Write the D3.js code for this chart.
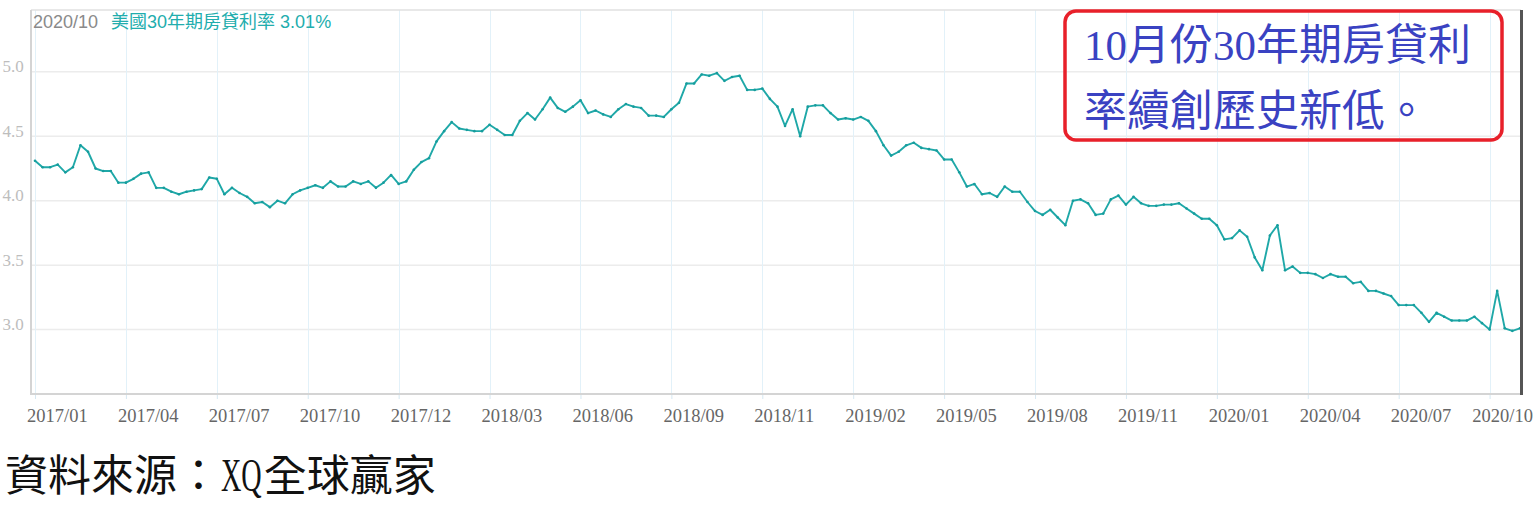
<!DOCTYPE html>
<html><head><meta charset="utf-8">
<script src="https://cdn.jsdelivr.net/npm/d3@7"></script>
<style>html,body{margin:0;padding:0;background:#fff;overflow:hidden}svg{display:block}</style>
</head><body>
<svg id="chart" width="1536" height="522"></svg>
<script>
// Weekly US 30-year mortgage rate (%), Jan 2017 – Oct 2020
const rates = [
4.31,4.26,4.26,4.28,4.22,4.26,4.43,4.38,4.25,4.23,4.23,4.14,
4.14,4.17,4.21,4.22,4.10,4.10,4.07,4.05,4.07,4.08,4.09,4.18,
4.17,4.05,4.10,4.06,4.03,3.98,3.99,3.95,4.00,3.98,4.05,4.08,
4.10,4.12,4.10,4.15,4.11,4.11,4.15,4.13,4.15,4.10,4.14,4.20,
4.13,4.15,4.24,4.30,4.33,4.46,4.54,4.61,4.56,4.55,4.54,4.54,
4.59,4.55,4.51,4.51,4.62,4.68,4.63,4.71,4.80,4.72,4.69,4.73,
4.78,4.68,4.70,4.67,4.65,4.71,4.75,4.73,4.72,4.66,4.66,4.65,
4.71,4.76,4.91,4.91,4.98,4.97,4.99,4.93,4.96,4.97,4.86,4.86,
4.87,4.79,4.73,4.58,4.71,4.50,4.73,4.74,4.74,4.68,4.63,4.64,
4.63,4.65,4.62,4.54,4.43,4.35,4.38,4.43,4.45,4.41,4.40,4.39,
4.32,4.32,4.22,4.11,4.13,4.05,4.06,4.03,4.11,4.07,4.07,3.99,
3.92,3.89,3.93,3.87,3.81,4.00,4.01,3.98,3.89,3.90,4.01,4.04,
3.97,4.03,3.98,3.96,3.96,3.97,3.97,3.98,3.94,3.90,3.86,3.86,
3.81,3.70,3.71,3.77,3.72,3.56,3.46,3.73,3.81,3.46,3.49,3.44,
3.44,3.43,3.40,3.43,3.41,3.41,3.36,3.37,3.30,3.30,3.28,3.26,
3.19,3.19,3.19,3.13,3.06,3.13,3.10,3.07,3.07,3.07,3.10,3.05,
3.00,3.30,3.01,2.99,3.01
];
const tickLabels = ["2017/01","2017/04","2017/07","2017/10","2017/12","2018/03","2018/06","2018/09","2018/11","2019/02","2019/05","2019/08","2019/11","2020/01","2020/04","2020/07","2020/10"];
const tickStep = 12; // one x label every 12 weekly points
const yTicks = [3.0, 3.5, 4.0, 4.5, 5.0];
const yDomain = [2.5, 5.48];
const legendDate = "2020/10";
const legendText = "美國30年期房貸利率 3.01%";
const noteLines = ["10月份30年期房貸利", "率續創歷史新低。"];
const sourceParts = ["資料來源：", "XQ", "全球贏家"];

(function () {
const svg = d3.select("#chart");
const pL = 31, pT = 10, pB = 394, pR = 1521;
const x = d3.scaleLinear().domain([0, rates.length - 1]).range([35, 1519.9]);
const y = d3.scaleLinear().domain(yDomain).range([pB, pT]);
const tickIdx = tickLabels.map((d, i) => i * tickStep);

// horizontal grid
svg.append("g").selectAll("line").data(yTicks).join("line")
  .attr("x1", pL).attr("x2", pR)
  .attr("y1", d => y(d)).attr("y2", d => y(d))
  .attr("stroke", "#ececec").attr("stroke-width", 1.5);

// vertical grid + ticks
const xa = d3.axisBottom(x).tickValues(tickIdx).tickSize(5).tickFormat("");
const gx = svg.append("g").attr("transform", `translate(0,${pB})`).call(xa);
gx.select(".domain").remove();
gx.selectAll(".tick line").attr("stroke", "#d6e8f2").attr("stroke-width", 1);
svg.append("g").selectAll("line").data(tickIdx).join("line")
  .attr("x1", d => Math.round(x(d)) + 0.5).attr("x2", d => Math.round(x(d)) + 0.5)
  .attr("y1", pT).attr("y2", pB)
  .attr("stroke", "#e2f1f9").attr("stroke-width", 1);

// x labels
svg.append("g").selectAll("text").data(tickIdx).join("text")
  .attr("x", (d, i) => i === tickLabels.length - 1 ? 1533 : x(d) - 8)
  .attr("y", 422)
  .attr("text-anchor", (d, i) => i === tickLabels.length - 1 ? "end" : "start")
  .attr("font-family", "'Liberation Serif', serif").attr("font-size", 18.5)
  .attr("fill", "#666").text((d, i) => tickLabels[i]);

// y labels
const ya = d3.axisLeft(y).tickValues(yTicks).tickFormat(d3.format(".1f"));
svg.append("g").selectAll("text").data(yTicks).join("text")
  .attr("x", 2.5).attr("y", d => y(d) + 0.5)
  .attr("font-family", "'Liberation Serif', serif").attr("font-size", 17)
  .attr("fill", "#bdbdbd").text(d => ya.tickFormat()(d));

// frame
svg.append("line").attr("x1", pL).attr("x2", pR).attr("y1", pT).attr("y2", pT).attr("stroke", "#e0e0e0").attr("stroke-width", 1.5);
svg.append("line").attr("x1", pL).attr("x2", pL).attr("y1", pT).attr("y2", pB + 1).attr("stroke", "#d4d4d4").attr("stroke-width", 2);
svg.append("line").attr("x1", pL).attr("x2", pR).attr("y1", pB).attr("y2", pB).attr("stroke", "#d4d4d4").attr("stroke-width", 2);

// line
const line = d3.line().x((d, i) => x(i)).y(d => y(d));
svg.append("path").datum(rates).attr("d", line).attr("fill", "none")
  .attr("stroke", "#1fa8a8").attr("stroke-width", 1.9).attr("stroke-linejoin", "round");
svg.append("g").selectAll("circle").data(rates).join("circle")
  .attr("cx", (d, i) => x(i)).attr("cy", d => y(d)).attr("r", 1.3).attr("fill", "#169c9c");

// cursor bar at last point
const lastX = x(rates.length - 1) + 1.6;
svg.append("line").attr("x1", lastX).attr("x2", lastX).attr("y1", pT).attr("y2", pB + 1)
  .attr("stroke", "#555").attr("stroke-width", 3);

// legend
const lg1 = svg.append("text").attr("x", 33).attr("y", 28)
  .attr("font-family", "'Liberation Sans', Arial, 'Noto Sans CJK TC', sans-serif").attr("font-size", 18)
  .attr("fill", "#8a8a8a").text(legendDate);
const w1 = lg1.node().getComputedTextLength();
svg.append("text").attr("x", 33 + w1 + 13).attr("y", 28)
  .attr("font-family", "'Liberation Sans', Arial, 'Noto Sans CJK TC', sans-serif").attr("font-size", 18)
  .attr("fill", "#22adad").text(legendText);

// annotation box
svg.append("rect").attr("x", 1065).attr("y", 11).attr("width", 437).attr("height", 129)
  .attr("rx", 11).attr("ry", 11).attr("fill", "none").attr("stroke", "#e8202a").attr("stroke-width", 3.5);
noteLines.forEach((t, i) => {
  svg.append("text").attr("x", 1084).attr("y", 60 + i * 66)
    .attr("font-family", "'Liberation Serif', 'Noto Sans CJK TC', serif").attr("font-size", 43)
    .attr("fill", "#3a42c2").text(t);
});

// source
let sx = 5;
const srcFont = "'Liberation Serif', 'Noto Sans CJK TC', serif";
sourceParts.forEach((t) => {
  if (t === "XQ") {
    const el = svg.append("text").attr("transform", `translate(${sx + 1},491) scale(0.6,1)`)
      .attr("font-family", "'Liberation Serif', serif").attr("font-size", 47)
      .attr("fill", "#111").text(t);
    sx += el.node().getBoundingClientRect().width + 3;
  } else {
    const el = svg.append("text").attr("x", sx).attr("y", 491)
      .attr("font-family", srcFont).attr("font-size", 43).attr("font-weight", 400)
      .attr("fill", "#111").text(t);
    sx += el.node().getComputedTextLength();
  }
});
})();
</script>
</body></html>
